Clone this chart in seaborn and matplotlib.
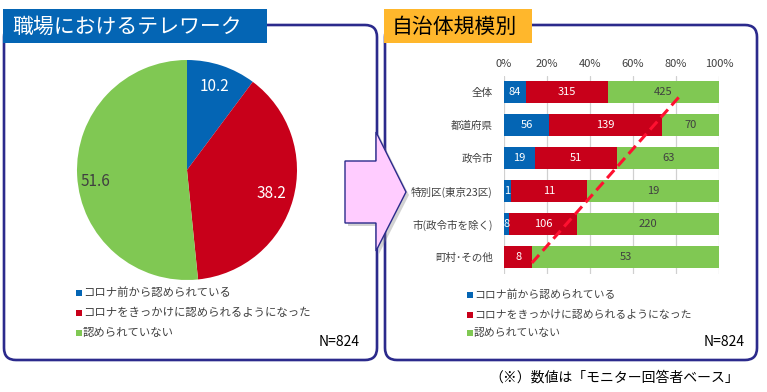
import numpy as np
import pandas as pd
import matplotlib
matplotlib.use("Agg")
import matplotlib.pyplot as plt
from matplotlib.patches import FancyBboxPatch, Rectangle, Polygon
import seaborn as sns

# ---------------- data ----------------
pie_labels = ["コロナ前から認められている", "コロナをきっかけに認められるようになった", "認められていない"]
pie_values = [10.2, 38.2, 51.6]

categories = ["全体", "都道府県", "政令市", "特別区(東京23区)", "市(政令市を除く)", "町村･その他"]
before_covid = [84, 56, 19, 1, 8, 0]
since_covid = [315, 139, 51, 11, 106, 8]
not_allowed = [425, 70, 63, 19, 220, 53]
pct_ticks = [0, 20, 40, 60, 80, 100]
tick_labels = ["0%", "20%", "40%", "60%", "80%", "100%"]

n_label = "N=824"
left_title = "職場におけるテレワーク"
right_title = "自治体規模別"
footnote = "（※）数値は「モニター回答者ベース」"

# ---------------- style ----------------
sns.set_theme(style="white")
plt.rcParams["font.family"] = ["Noto Sans CJK JP", "DejaVu Sans"]

BLUE = "#0465B4"
RED = "#C8001A"
GREEN = "#80C853"
NAVY = "#2B2A8C"
ORANGE = "#FFB72C"
DARK = "#404040"
colors = [BLUE, RED, GREEN]

W, H = 767, 392
fig = plt.figure(figsize=(W / 100, H / 100), dpi=100)

def rect(x0, y0, x1, y1):
    return [x0 / W, 1 - y1 / H, (x1 - x0) / W, (y1 - y0) / H]

# background axes in pixel coordinates
bg = fig.add_axes([0, 0, 1, 1], zorder=0)
bg.set_xlim(0, W)
bg.set_ylim(H, 0)
bg.axis("off")

for (x0, y0, w, h) in [(4, 25, 373, 335), (385, 25, 372, 335)]:
    bg.add_patch(FancyBboxPatch((x0, y0), w, h,
                                boxstyle="round,pad=0,rounding_size=12",
                                fc="white", ec=NAVY, lw=1.9, zorder=1))
bg.add_patch(Rectangle((3, 9), 264, 34, fc=BLUE, ec="none", zorder=2))
bg.text(12, 26.5, left_title, color="white", fontsize=15, va="center", ha="left", zorder=3)
bg.add_patch(Rectangle((384, 9), 148, 34, fc=ORANGE, ec="none", zorder=2))
bg.text(392, 26.5, right_title, color="black", fontsize=15, va="center", ha="left", zorder=3)

# legends
def draw_legend(x_sq, ys, fs):
    for lab, col, y in zip(pie_labels, colors, ys):
        bg.add_patch(Rectangle((x_sq, y - 3), 6, 6, fc=col, ec="none", zorder=3))
        bg.text(x_sq + 7, y, lab, fontsize=fs, color=DARK, va="center", ha="left", zorder=3)

draw_legend(76, [293, 313, 333], 8.2)
draw_legend(467, [295, 314.5, 333], 7.8)
bg.text(360, 342, n_label, fontsize=10, color="black", ha="right", va="center", zorder=3)
bg.text(745, 342, n_label, fontsize=10, color="black", ha="right", va="center", zorder=3)
bg.text(614, 378, footnote, fontsize=10, color="black", ha="center", va="center", zorder=3)

# ---------------- pie ----------------
axp = fig.add_axes(rect(77, 60, 297, 280), zorder=1)
axp.patch.set_alpha(0)
axp.pie(pie_values, colors=colors, startangle=90, counterclock=False, radius=1,
        wedgeprops=dict(linewidth=0))
axp.set_xlim(-1, 1)
axp.set_ylim(-1, 1)
cum = np.cumsum([0] + pie_values)
label_cols = ["white", "white", DARK]
label_r = [0.8, 0.8, 0.84]
label_ang_override = [None, None, -173]
for i, v in enumerate(pie_values):
    mid = 90 - (cum[i] + v / 2) / 100 * 360
    ang = label_ang_override[i] if label_ang_override[i] is not None else mid
    a = np.deg2rad(ang)
    axp.text(label_r[i] * np.cos(a), label_r[i] * np.sin(a), f"{v:.1f}",
             ha="center", va="center", fontsize=11, color=label_cols[i])

# ---------------- stacked bars ----------------
df = pd.DataFrame({"cat": categories, "b": before_covid, "r": since_covid, "g": not_allowed})
tot = df[["b", "r", "g"]].sum(axis=1)
df["pb"] = df["b"] / tot * 100
df["pr"] = df["r"] / tot * 100
df["pg"] = df["g"] / tot * 100
df["c1"] = df["pb"]
df["c2"] = df["pb"] + df["pr"]
df["c3"] = df["c2"] + df["pg"]

axb = fig.add_axes(rect(504, 75.5, 719, 273.5), zorder=1)
axb.patch.set_alpha(0)
bw = 0.64
sns.barplot(data=df, x="c3", y="cat", order=categories, color=GREEN, orient="h",
            width=bw, saturation=1, ax=axb, zorder=2)
sns.barplot(data=df, x="c2", y="cat", order=categories, color=RED, orient="h",
            width=bw, saturation=1, ax=axb, zorder=2)
sns.barplot(data=df, x="c1", y="cat", order=categories, color=BLUE, orient="h",
            width=bw, saturation=1, ax=axb, zorder=2)
for p in axb.patches:
    p.set_linewidth(0)

for i, row in df.iterrows():
    segs = [(row["b"], 0, row["c1"], "white"),
            (row["r"], row["c1"], row["c2"], "white"),
            (row["g"], row["c2"], row["c3"], DARK)]
    for val, s, e, col in segs:
        if val > 0:
            axb.text((s + e) / 2, i, f"{val}", ha="center", va="center",
                     fontsize=8, color=col, zorder=4)

axb.set_xlim(0, 100)
axb.set_ylim(5.5, -0.5)
axb.set_xticks(pct_ticks)
axb.set_xticklabels(tick_labels)
axb.xaxis.tick_top()
axb.tick_params(axis="x", length=0, pad=5, labelsize=8, labelcolor=DARK)
axb.tick_params(axis="y", length=0, pad=8, labelsize=7.6, labelcolor=DARK)
axb.set_xlabel("")
axb.set_ylabel("")
axb.grid(axis="x", color="#D0D0D0", lw=0.9, zorder=0)
axb.set_axisbelow(True)
for s in axb.spines.values():
    s.set_visible(False)

# dashed trend annotation
axb.plot([13.0, 81.4], [5.18, 0.15], color="#FF1030", lw=2.2,
         linestyle=(0, (3.5, 1.8)), zorder=5, clip_on=False)

# ---------------- arrow ----------------
fg = fig.add_axes([0, 0, 1, 1], zorder=5)
fg.set_xlim(0, W)
fg.set_ylim(H, 0)
fg.axis("off")
arrow_pts = [(345, 161), (376, 161), (376, 132), (406, 192), (376, 251), (376, 223), (345, 223)]
fg.add_patch(Polygon([(x + 3, y + 3) for x, y in arrow_pts], closed=True,
                     fc="#808080", ec="none", alpha=0.35))
fg.add_patch(Polygon(arrow_pts, closed=True, fc="#FFCCFF", ec=NAVY, lw=1.0))

fig.savefig("out.png", dpi=100)
